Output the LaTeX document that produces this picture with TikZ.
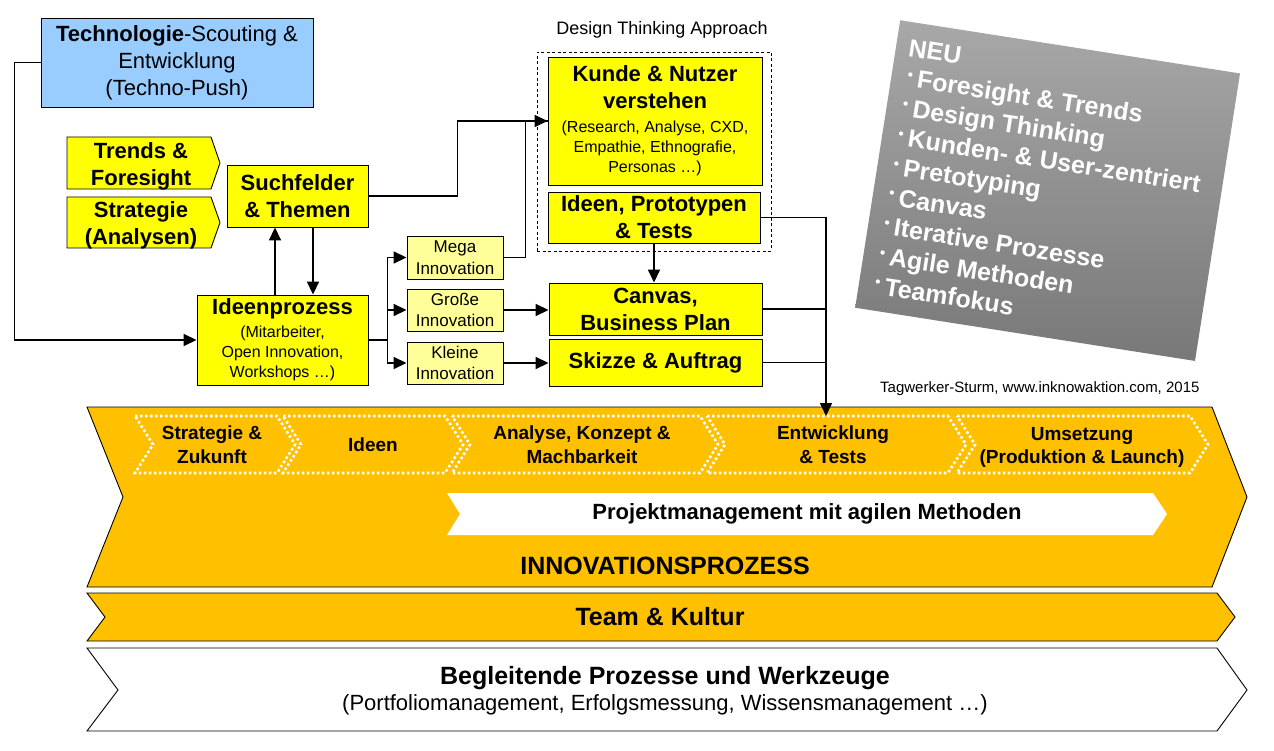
\documentclass[tikz,border=0pt]{standalone}
\usepackage{fontspec}
\setmainfont{Liberation Sans}
\usetikzlibrary{arrows.meta,positioning,calc}

\definecolor{techblue}{RGB}{153,204,255}
\definecolor{boxyellow}{RGB}{255,255,0}
\definecolor{paleyellow}{RGB}{255,255,153}
\definecolor{procorange}{RGB}{255,192,0}
\definecolor{neutop}{RGB}{168,168,168}
\definecolor{neubottom}{RGB}{120,120,120}

\newcommand{\neubul}{\hspace{3pt}\raisebox{7pt}{\fontsize{15}{15}\selectfont\textbullet}\hspace{5pt}}
\newcommand{\boxhead}[1]{{\fontsize{22}{27}\selectfont\bfseries #1}}

\begin{document}
\begin{tikzpicture}[
    x=1pt, y=-1pt,
    box/.style={draw, line width=0.9pt, inner sep=0pt, align=center},
    mainbox/.style={box, fill=boxyellow, font=\fontsize{22}{27}\selectfont\bfseries},
    notebox/.style={box, fill=boxyellow, font=\fontsize{16}{20}\selectfont},
    smallbox/.style={box, fill=paleyellow, minimum width=96pt, font=\fontsize{17}{21.5}\selectfont},
    arr/.style={-{Triangle[length=13pt,width=12pt]}, line width=1.6pt},
    link/.style={line width=1.6pt},
    tag/.style={draw, line width=0.9pt, fill=boxyellow},
    tagtext/.style={font=\fontsize{22}{27}\selectfont\bfseries, align=center},
    phase/.style={white, line width=2.6pt, dash pattern=on 2.6pt off 2.4pt},
    phasetext/.style={font=\fontsize{19}{23.5}\selectfont\bfseries, align=center},
    band/.style={draw, line width=0.9pt, fill=procorange},
    bandtext/.style={font=\fontsize{25}{30}\selectfont\bfseries},
    neubox/.style={inner sep=0pt, top color=neutop, bottom color=neubottom},
    neutext/.style={inner sep=0pt, text=white, align=left, font=\fontsize{25}{30}\selectfont\bfseries},
  ]
  \useasboundingbox (0,0) rectangle (1274,751);

  % Sources
  \node[box, fill=techblue, minimum width=272pt, minimum height=89pt, font=\fontsize{22}{27}\selectfont] (techno) at (177,62.5) {\textbf{Technologie}-Scouting \&\\Entwicklung\\(Techno-Push)};
  \draw[tag] (67,137) -- (211,137) -- (220,163) -- (211,189) -- (67,189) -- cycle;
  \node[tagtext] (trends) at (141,166) {Trends \&\\Foresight};
  \draw[tag] (67,197) -- (211,197) -- (220,222.5) -- (211,248) -- (67,248) -- cycle;
  \node[tagtext] (strategie) at (141,225) {Strategie\\(Analysen)};

  % Idea flow
  \node[mainbox, minimum width=141pt, minimum height=62pt] (suchfelder) at (297.5,196) {Suchfelder\\\& Themen};
  \node[notebox, minimum width=171pt, minimum height=90pt] (ideenprozess) at (282.5,340) {\boxhead{Ideenprozess}\\[3pt](Mitarbeiter,\\Open Innovation,\\Workshops …)};
  \node[smallbox, minimum height=43pt] (mega) at (455,257.5) {Mega\\Innovation};
  \node[smallbox, minimum height=42pt] (gross) at (455,310) {Große\\Innovation};
  \node[smallbox, minimum height=42pt] (klein) at (455,363) {Kleine\\Innovation};

  % Design Thinking
  \node[draw, line width=0.8pt, dash pattern=on 3pt off 2.5pt, minimum width=234pt, minimum height=199pt] (dtbox) at (654,151.5) {};
  \node[font=\fontsize{18}{22}\selectfont] (dtlabel) at (662,30) {Design Thinking Approach};
  \node[notebox, minimum width=214pt, minimum height=128pt] (kunde) at (655,121) {\boxhead{Kunde \& Nutzer}\\[7pt]\boxhead{verstehen}\\[4pt](Research, Analyse, CXD,\\Empathie, Ethnografie,\\Personas …)};
  \node[mainbox, minimum width=212pt, minimum height=51pt] (ideen) at (654,217.5) {Ideen, Prototypen\\\& Tests};
  \node[mainbox, minimum width=213pt, minimum height=52pt] (canvas) at (655.5,309) {Canvas,\\Business Plan};
  \node[mainbox, minimum width=213pt, minimum height=47pt] (skizze) at (655.5,362.5) {Skizze \& Auftrag};

  % NEU
  \begin{scope}[shift={(900,20)}, rotate=-8.9, transform shape]
    \node[neubox, anchor=north west, minimum width=344pt, minimum height=291pt] (neu) at (0,0) {};
    \node[neutext, anchor=north west] (neulist) at (13,17) {NEU\\\neubul Foresight \& Trends\\\neubul Design Thinking\\\neubul Kunden- \& User-zentriert\\\neubul Pretotyping\\\neubul Canvas\\\neubul Iterative Prozesse\\\neubul Agile Methoden\\\neubul Teamfokus};
  \end{scope}
  \node[anchor=east, font=\fontsize{15}{18}\selectfont] (credit) at (1203,389) {Tagwerker-Sturm, www.inknowaktion.com, 2015};

  % Innovation process
  \draw[band] (87,407) -- (1212,407) -- (1247,497) -- (1212,587) -- (87,587) -- (123,497) -- cycle;
  \draw[phase] (135,416) -- (277,416) -- (295,444.5) -- (277,473) -- (135,473) -- (153,444.5) -- cycle;
  \draw[phase] (283,416) -- (445,416) -- (463,444.5) -- (445,473) -- (283,473) -- (301,444.5) -- cycle;
  \draw[phase] (452,416) -- (700,416) -- (718,444.5) -- (700,473) -- (452,473) -- (470,444.5) -- cycle;
  \draw[phase] (707,416) -- (948,416) -- (966,444.5) -- (948,473) -- (707,473) -- (725,444.5) -- cycle;
  \draw[phase] (957,416) -- (1190,416) -- (1208,444.5) -- (1190,473) -- (957,473) -- (975,444.5) -- cycle;
  \node[phasetext] (strategiephase) at (212,444.5) {Strategie \&\\Zukunft};
  \node[phasetext] (ideenphase) at (373,444.5) {Ideen};
  \node[phasetext] (analysephase) at (582,444.5) {Analyse, Konzept \&\\Machbarkeit};
  \node[phasetext] (entwphase) at (833,444.5) {Entwicklung\\\& Tests};
  \node[phasetext] (umsetzphase) at (1082,447.5) {Umsetzung\\(Produktion \& Launch)};
  \fill[white] (447,493) -- (1153,493) -- (1167,514) -- (1153,535) -- (447,535) -- (460,514) -- cycle;
  \node[font=\fontsize{22}{26}\selectfont\bfseries] (agil) at (807,514) {Projektmanagement mit agilen Methoden};
  \node[bandtext] (innov) at (665,566) {INNOVATIONSPROZESS};

  % Lower bands
  \draw[band] (87,593) -- (1217,593) -- (1235,617) -- (1217,641) -- (87,641) -- (105,617) -- cycle;
  \node[bandtext] (team) at (660,617) {Team \& Kultur};
  \draw[line width=0.9pt, fill=white] (87,648) -- (1217,648) -- (1247,690) -- (1217,731) -- (87,731) -- (118,690) -- cycle;
  \node[bandtext] (begleit) at (665,678) {Begleitende Prozesse und Werkzeuge};
  \node[font=\fontsize{22}{26}\selectfont] (werkzeuge) at (665,705) {(Portfoliomanagement, Erfolgsmessung, Wissensmanagement …)};

  % Connectors
  \coordinate (entwtop) at (826,416);
  \coordinate (upfoot) at ([xshift=-7.5pt]ideenprozess.north);
  \coordinate (downfoot) at ([xshift=15.5pt]suchfelder.south);
  \draw[arr] (techno.west) -- ++(-26,0) |- (ideenprozess.west);
  \draw[arr] (upfoot) -- (upfoot |- suchfelder.south);
  \draw[arr] (downfoot) -- (downfoot |- ideenprozess.north);
  \draw[arr] (suchfelder.east) -- ++(89,0) |- (kunde.west);
  \draw[link] (mega.east) -- ++(22,0) |- (kunde.west);
  \draw[arr] (ideenprozess.east) -- ++(19,0) |- (mega.west);
  \draw[arr] (ideenprozess.east) -- ++(19,0) |- (gross.west);
  \draw[arr] (ideenprozess.east) -- ++(19,0) |- (klein.west);
  \draw[arr] (gross.east) -- (gross.east -| canvas.west);
  \draw[arr] (klein.east) -- (klein.east -| skizze.west);
  \draw[arr] (ideen.south) -- (ideen.south |- canvas.north);
  \draw[arr] (ideen.east) -| (entwtop);
  \draw[link] (canvas.east) -- (canvas.east -| entwtop);
  \draw[link] (skizze.east) -- (skizze.east -| entwtop);
\end{tikzpicture}
\end{document}
